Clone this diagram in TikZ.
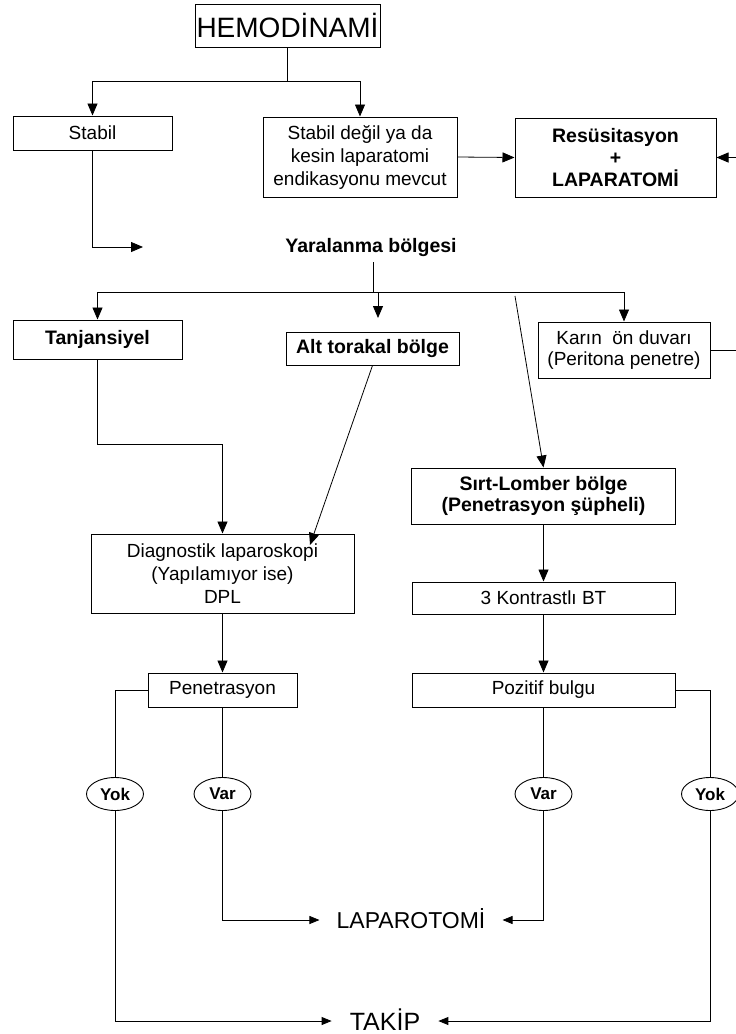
\documentclass[tikz,border=0pt]{standalone}
\usepackage{fontspec}
\setmainfont{Liberation Sans}
\usetikzlibrary{arrows.meta,shapes.geometric}
\newcommand\nrmf{\fontsize{19}{23}\selectfont}
\newcommand\bldf{\fontsize{19.5}{22}\selectfont\bfseries}
\newcommand\ellf{\fontsize{17}{18}\selectfont\bfseries}
\begin{document}
\begin{tikzpicture}[x=1pt,y=-1pt,
  box/.style={draw, line width=1pt, inner sep=0pt, align=center, font=\nrmf},
  bbox/.style={box, font=\bldf},
  ell/.style={draw, ellipse, line width=0.9pt, minimum width=57pt, minimum height=33pt, inner sep=0pt, font=\ellf},
  ln/.style={line width=0.8pt},
  arr/.style={ln, -{Triangle[length=12pt,width=10pt]}},
  arrs/.style={ln, -{Triangle[length=10pt,width=8pt]}}]
\useasboundingbox (0,0) rectangle (736,1034);
\fill[white] (0,0) rectangle (736,1034);

% nodes
\node[box, minimum width=185pt, minimum height=43pt, font=\fontsize{28}{30}\selectfont] (hemo) at (287.5,25.5) {HEMODİNAMİ};
\node[box, minimum width=159pt, minimum height=34pt] (stabil) at (92.5,133) {Stabil};
\node[box, minimum width=194pt, minimum height=80pt] (degil) at (360,157) {Stabil değil ya da\\kesin laparatomi\\endikasyonu mevcut};
\node[bbox, minimum width=201pt, minimum height=79pt] (res) at (615.5,157.5) {Resüsitasyon\\+\\LAPARATOMİ};
\node[font=\bldf, inner sep=2pt] (yar) at (371,247) {Yaralanma bölgesi};
\node[bbox, minimum width=169pt, minimum height=39pt] (tanj) at (97.5,339.5) {Tanjansiyel};
\node[bbox, minimum width=173pt, minimum height=33pt] (alt) at (372.5,348.5) {Alt torakal bölge};
\node[box, minimum width=172pt, minimum height=56pt, font=\fontsize{19}{21}\selectfont] (karin) at (624,350) {Karın\ \ ön duvarı\\(Peritona penetre)};
\node[bbox, minimum width=264pt, minimum height=56pt, font=\fontsize{19.5}{21}\selectfont\bfseries] (sirt) at (543.5,496) {Sırt-Lomber bölge\\(Penetrasyon şüpheli)};
\node[box, minimum width=263pt, minimum height=79pt] (diag) at (222.5,573.5) {Diagnostik laparoskopi\\(Yapılamıyor ise)\\DPL};
\node[box, minimum width=263pt, minimum height=32pt] (kont) at (543.5,598) {3 Kontrastlı BT};
\node[box, minimum width=149pt, minimum height=34pt] (pen) at (222.5,690) {Penetrasyon};
\node[box, minimum width=263pt, minimum height=34pt] (poz) at (543.5,690) {Pozitif bulgu};
\node[ell] (yok1) at (115,794) {Yok};
\node[ell] (var1) at (222.5,794) {Var};
\node[ell] (var2) at (543.5,794) {Var};
\node[ell] (yok2) at (710,794) {Yok};
\node[font=\fontsize{23}{25}\selectfont, inner xsep=17pt, inner ysep=0pt, text height=16.5pt, text depth=0pt] (lapa) at (411,920) {LAPAROTOMİ};
\node[font=\fontsize{25}{27}\selectfont, inner xsep=18pt, inner ysep=0pt, text height=18pt, text depth=0pt] (takip) at (385,1021) {TAKİP};

% connectors
\coordinate (j1) at (287.5,81);
\draw[ln] (hemo.south) -- (j1);
\draw[arr] (j1) -| (stabil.north);
\draw[arr] (j1) -| (degil.north);
\draw[arr] (degil.east) -- (res.west);
\coordinate (s1) at (143,247);
\draw[arr] (stabil.south) |- (s1);

\coordinate (y0) at (373,262);
\coordinate (j2) at (373,292);
\draw[ln] (y0) -- (j2);
\draw[arr] (j2) -| (tanj.north);
\draw[arr] (j2) -| (karin.north);
\coordinate (a0) at (378,292);
\coordinate (a1) at (378,318);
\draw[arr] (a0) -- (a1);
\coordinate (d0) at (515,296);
\draw[arr] (d0) -- (sirt.north);

\coordinate (t1) at (97.5,444);
\draw[arr] (tanj.south) -- (t1) -| (diag.north);
\coordinate (a2) at (310,545);
\draw[arr] (alt.south) -- (a2);

\draw[arr] (diag.south) -- (pen.north);
\draw[arr] (sirt.south) -- (kont.north);
\draw[arr] (kont.south) -- (poz.north);

\draw[ln] (pen.west) -| (yok1.north);
\draw[ln] (pen.south) -- (var1.north);
\draw[ln] (poz.south) -- (var2.north);
\draw[ln] (poz.east) -| (yok2.north);

\draw[arrs] (var1.south) |- (lapa.west);
\draw[arrs] (var2.south) |- (lapa.east);
\draw[arrs] (yok1.south) |- (takip.west);
\draw[arrs] (yok2.south) |- (takip.east);

\coordinate (k1) at (760,350);
\coordinate (k2) at (760,157.5);
\draw[arr] (karin.east) -- (k1) -- (k2) -- (res.east);
\end{tikzpicture}
\end{document}
